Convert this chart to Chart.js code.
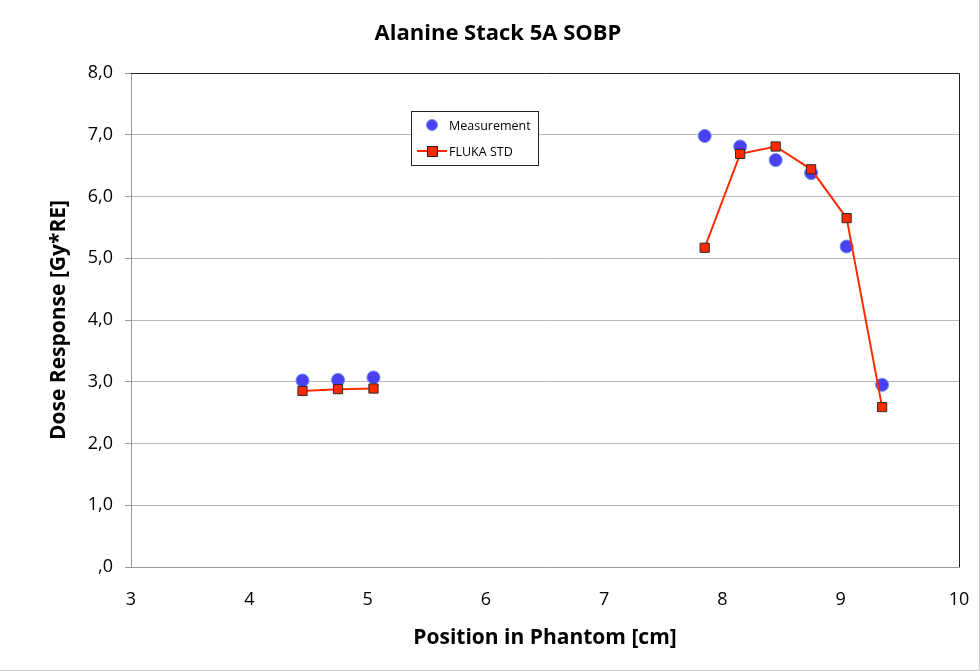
<!DOCTYPE html>
<html>
<head>
<meta charset="utf-8">
<script src="https://cdn.jsdelivr.net/npm/chart.js@4.4.0/dist/chart.umd.min.js"></script>
<style>
  html, body { margin: 0; padding: 0; background: #fff; }
  #wrap { width: 980px; height: 671px; position: relative; box-sizing: border-box; border-right: 1px solid #c8c8c8; border-bottom: 1px solid #c8c8c8; }
</style>
</head>
<body>
<div id="wrap"><canvas id="doseChart" width="980" height="671"></canvas></div>
<script>
const positions = [4.45, 4.75, 5.05, 7.85, 8.15, 8.45, 8.75, 9.05, 9.35];
const measurement = [3.02, 3.03, 3.07, 6.98, 6.81, 6.59, 6.38, 5.19, 2.95];
const flukaStd = [2.85, 2.88, 2.89, 5.17, 6.69, 6.81, 6.44, 5.65, 2.59];
const xTicks = [3, 4, 5, 6, 7, 8, 9, 10];
const yTicks = [0, 1, 2, 3, 4, 5, 6, 7, 8];

const FONT = "'Open Sans', 'DejaVu Sans', sans-serif";
const BLUE = "#4a40f2";
const RED = "#ff2a00";

// draws the title, plot frame and the boxed legend inside the plot
const decorations = {
    id: "decorations",
    afterDraw(chart) {
        const c = chart.ctx;
        const a = chart.chartArea;
        c.save();
        c.strokeStyle = "#222";
        c.lineWidth = 1;
        c.beginPath();
        c.moveTo(a.left, a.top + 0.5);
        c.lineTo(a.right + 0.5, a.top + 0.5);
        c.lineTo(a.right + 0.5, a.bottom);
        c.stroke();

        c.fillStyle = "#000";
        c.font = "bold 22px " + FONT;
        c.textAlign = "center";
        c.textBaseline = "middle";
        c.fillText("Alanine Stack 5A SOBP", 498, 34);

        // legend
        c.fillStyle = "#fff";
        c.fillRect(411, 111, 127, 54);
        c.strokeStyle = "#222";
        c.strokeRect(411.5, 111.5, 127, 54);

        c.beginPath();
        c.arc(432, 125, 5.5, 0, Math.PI * 2);
        c.fillStyle = BLUE;
        c.fill();
        c.strokeStyle = "#6a8cf0";
        c.stroke();

        c.strokeStyle = RED;
        c.lineWidth = 2;
        c.beginPath();
        c.moveTo(417, 151);
        c.lineTo(447, 151);
        c.stroke();
        c.fillStyle = RED;
        c.fillRect(427, 146, 10, 10);
        c.lineWidth = 1;
        c.strokeStyle = "#222";
        c.strokeRect(427.5, 146.5, 10, 10);

        c.fillStyle = "#000";
        c.font = "12.5px " + FONT;
        c.textAlign = "left";
        c.fillText("Measurement", 449, 126);
        c.fillText("FLUKA STD", 449, 152);
        c.restore();
    }
};

const ctx = document.getElementById("doseChart").getContext("2d");
const doseChart = new Chart(ctx, {
    type: "scatter",
    data: {
        datasets: [{
            label: "FLUKA STD",
            data: positions.map((x, i) => ({ x: x, y: flukaStd[i] })),
            showLine: true,
            borderColor: RED,
            borderWidth: 2,
            backgroundColor: RED,
            pointStyle: "rect",
            pointRadius: 6.5,
            pointBorderColor: "#2a2a2a",
            pointBorderWidth: 1,
            segment: {
                borderColor: s => (s.p1.parsed.x - s.p0.parsed.x > 1 ? "transparent" : RED)
            }
        }, {
            label: "Measurement",
            data: positions.map((x, i) => ({ x: x, y: measurement[i] })),
            backgroundColor: BLUE,
            borderColor: "#6a8cf0",
            pointRadius: 6.5,
            pointBorderWidth: 1
        }]
    },
    options: {
        responsive: false,
        animation: false,
        layout: { padding: { top: 73, right: 21, left: 0, bottom: 0 } },
        plugins: {
            legend: { display: false },
            tooltip: { enabled: false }
        },
        scales: {
            x: {
                type: "linear",
                min: 3,
                max: 10,
                afterBuildTicks: s => { s.ticks = xTicks.map(v => ({ value: v })); },
                afterFit: s => { s.height = 104; s.paddingLeft = 0; s.paddingRight = 0; },
                grid: { display: false, drawOnChartArea: false, drawTicks: true, tickLength: 6, color: "#999" },
                border: { color: "#999" },
                ticks: { color: "#000", font: { family: FONT, size: 18 }, padding: 16 },
                title: {
                    display: true,
                    text: "Position in Phantom [cm]",
                    color: "#000",
                    font: { family: FONT, size: 21, weight: "bold" },
                    padding: { top: 0, bottom: 20 }
                }
            },
            y: {
                min: 0,
                max: 8,
                afterBuildTicks: s => { s.ticks = yTicks.map(v => ({ value: v })); },
                afterFit: s => { s.width = 131; s.paddingTop = 0; s.paddingBottom = 0; },
                grid: {
                    color: ctx => (ctx.tick && (ctx.tick.value === 0 || ctx.tick.value === 8) ? "rgba(0,0,0,0)" : "#b8b8b8"),
                    tickColor: "#999",
                    tickLength: 6
                },
                border: { color: "#999" },
                ticks: {
                    color: "#000",
                    font: { family: FONT, size: 18 },
                    padding: 12,
                    callback: v => (v === 0 ? ",0" : v.toFixed(1).replace(".", ","))
                },
                title: {
                    display: true,
                    text: "Dose Response [Gy*RE]",
                    color: "#000",
                    font: { family: FONT, size: 21, weight: "bold" },
                    padding: { top: 46, bottom: 0 }
                }
            }
        }
    },
    plugins: [decorations]
});
</script>
</body>
</html>
